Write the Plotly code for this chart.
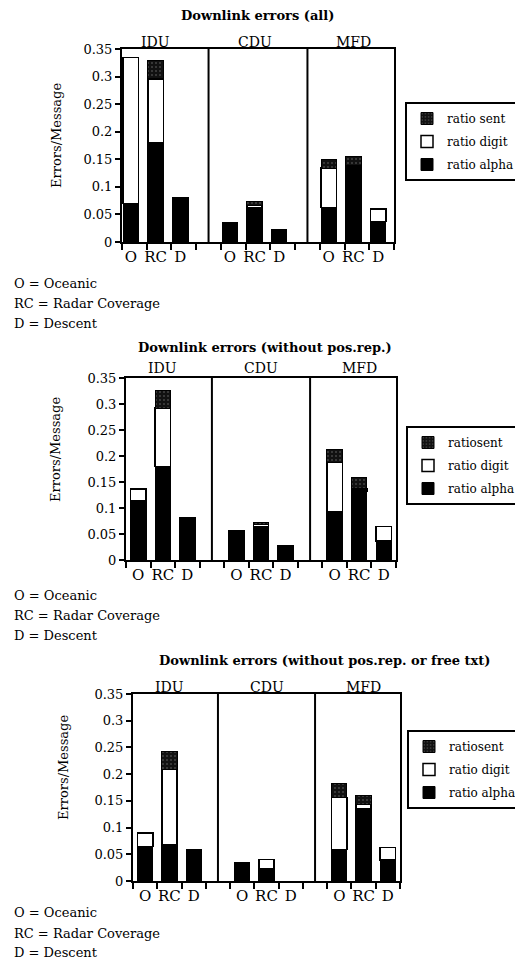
import plotly.graph_objects as go

W, H = 523, 965
PAGE_MARGIN = 8  # default body margin of the html page
FW, FH = W - PAGE_MARGIN, H - PAGE_MARGIN

groups = ["IDU", "CDU", "MFD"]
phases = ["O", "RC", "D"]
series_names = ["ratio alpha", "ratio digit", "ratio sent"]

# Panel 1: Downlink errors (all)
p1_alpha = [0.070, 0.180, 0.081, 0.035, 0.063, 0.023, 0.063, 0.134, 0.037]
p1_digit = [0.265, 0.116, 0.0, 0.0, 0.004, 0.0, 0.071, 0.004, 0.023]
p1_sent = [0.0, 0.033, 0.0, 0.0, 0.006, 0.0, 0.016, 0.017, 0.0]

# Panel 2: Downlink errors (without pos.rep.)
p2_alpha = [0.114, 0.180, 0.082, 0.056, 0.064, 0.027, 0.093, 0.133, 0.037]
p2_digit = [0.023, 0.112, 0.0, 0.0, 0.004, 0.0, 0.095, 0.004, 0.027]
p2_sent = [0.0, 0.034, 0.0, 0.0, 0.005, 0.0, 0.024, 0.022, 0.0]

# Panel 3: Downlink errors (without pos.rep. or free txt)
p3_alpha = [0.065, 0.068, 0.059, 0.034, 0.023, 0.0, 0.059, 0.135, 0.039]
p3_digit = [0.025, 0.141, 0.0, 0.0, 0.017, 0.0, 0.097, 0.009, 0.024]
p3_sent = [0.0, 0.033, 0.0, 0.0, 0.0, 0.0, 0.026, 0.016, 0.0]

titles = ["Downlink errors (all)",
          "Downlink errors (without pos.rep.)",
          "Downlink errors (without pos.rep. or free txt)"]
sent_labels = ["ratio sent", "ratiosent", "ratiosent"]
y_ticks = [0, 0.05, 0.1, 0.15, 0.2, 0.25, 0.3, 0.35]
footnotes = ["O = Oceanic", "RC = Radar Coverage", "D = Descent"]

FONT = "DejaVu Serif"

# layout geometry in page pixels (left, right, top, bottom)
panels = [
    dict(box=(122, 394, 49, 242), title_xy=(257, 15), ytitle_xy=(57, 136),
         legend_xy=(521, 102), foot_y=(283, 303, 323), shift=-0.14, grp_shift=-3,
         data=(p1_alpha, p1_digit, p1_sent)),
    dict(box=(126, 396, 378, 560), title_xy=(265, 348), ytitle_xy=(55, 450),
         legend_xy=(522, 426), foot_y=(595, 615, 635), shift=0.0, grp_shift=0,
         data=(p2_alpha, p2_digit, p2_sent)),
    dict(box=(133, 400, 694, 881), title_xy=(325, 660), ytitle_xy=(63, 768),
         legend_xy=(523, 730), foot_y=(912, 933, 952), shift=0.0, grp_shift=-3,
         data=(p3_alpha, p3_digit, p3_sent)),
]


def px_x(v):
    return (v - PAGE_MARGIN) / FW


def px_y(v):
    return 1 - (v - PAGE_MARGIN) / FH


x_pos = [g * 4 + p for g in range(len(groups)) for p in range(len(phases))]
x_lab = [phases[i % 3] for i in range(len(x_pos))]

fig = go.Figure()
layout = dict(
    template="none",
    width=FW, height=FH, margin=dict(l=0, r=0, t=0, b=0, pad=0), autosize=False,
    paper_bgcolor="white", plot_bgcolor="white", barmode="stack",
    font=dict(family=FONT, size=13, color="black"),
    annotations=[], shapes=[],
)


def nz(vals):
    return [v if v else None for v in vals]


for i, pnl in enumerate(panels):
    n = "" if i == 0 else str(i + 1)
    xa, ya = "x" + n, "y" + n
    lg = "legend" + n
    l, r, t, b = pnl["box"]
    alpha, digit, sent = pnl["data"]
    sh = pnl["shift"]
    if sh:
        bar_kw = dict(width=0.62, offset=-0.45)
    else:
        bar_kw = dict(width=0.63)

    fig.add_trace(go.Bar(x=x_pos, y=nz(alpha), name=series_names[0], xaxis=xa, yaxis=ya,
                         legend=lg, legendgroup="a" + n, legendrank=3,
                         marker=dict(color="black", line=dict(color="black", width=1)),
                         **bar_kw))
    fig.add_trace(go.Bar(x=x_pos, y=nz(digit), name=series_names[1], xaxis=xa, yaxis=ya,
                         legend=lg, legendgroup="d" + n, legendrank=2,
                         marker=dict(color="white", line=dict(color="black", width=1.5)),
                         **bar_kw))
    fig.add_trace(go.Bar(x=x_pos, y=nz(sent), name=sent_labels[i], xaxis=xa, yaxis=ya,
                         legend=lg, legendgroup="s" + n, legendrank=1,
                         marker=dict(color="#111111", line=dict(color="black", width=1),
                                     pattern=dict(shape=".", fgcolor="#444444", bgcolor="#111111",
                                                  size=4, solidity=0.2, fillmode="replace")),
                         **bar_kw))

    layout["xaxis" + n] = dict(
        domain=[px_x(l), px_x(r)], anchor=ya, range=[-0.5, 10.5], automargin=False,
        tickmode="array", tickvals=[v + sh for v in x_pos], ticktext=x_lab,
        ticks="", showgrid=False, zeroline=False,
        showline=True, mirror=True, linecolor="black", linewidth=2,
        tickfont=dict(family=FONT, size=15, color="black"),
        minor=dict(tickmode="array", tickvals=[k - 0.5 for k in range(12)],
                   ticks="outside", ticklen=6, tickwidth=1.5, tickcolor="black", showgrid=False),
        fixedrange=True,
    )
    layout["yaxis" + n] = dict(
        domain=[px_y(b), px_y(t)], anchor=xa, range=[0, 0.35], automargin=False,
        tickmode="array", tickvals=y_ticks,
        ticks="outside", ticklen=5, tickwidth=1.5, tickcolor="black",
        showgrid=False, zeroline=False,
        showline=True, mirror=True, linecolor="black", linewidth=2,
        tickfont=dict(family=FONT, size=13, color="black"),
        fixedrange=True,
    )
    layout[lg] = dict(
        x=px_x(pnl["legend_xy"][0]), y=px_y(pnl["legend_xy"][1]),
        xanchor="right", yanchor="top", traceorder="grouped",
        tracegroupgap=4,
        bordercolor="black", borderwidth=2, bgcolor="white",
        font=dict(family=FONT, size=12, color="black"),
        itemwidth=30,
    )

    # panel dividers between device groups
    for d in (3, 7):
        layout["shapes"].append(dict(type="line", xref=xa, yref=ya + " domain",
                                     x0=d, x1=d, y0=0, y1=1,
                                     line=dict(color="black", width=2)))
    # device group labels
    for gi, g in enumerate(groups):
        layout["annotations"].append(dict(
            text=g, xref=xa, yref=ya + " domain", x=gi * 4 + 1 + sh, y=1,
            xanchor="center", yanchor="bottom", yshift=pnl["grp_shift"], showarrow=False,
            font=dict(family=FONT, size=14, color="black")))
    # title
    layout["annotations"].append(dict(
        text="<b>" + titles[i] + "</b>", xref="paper", yref="paper",
        x=px_x(pnl["title_xy"][0]), y=px_y(pnl["title_xy"][1]),
        xanchor="center", yanchor="middle", showarrow=False,
        font=dict(family=FONT, size=13, color="black")))
    # y title
    layout["annotations"].append(dict(
        text="Errors/Message", xref="paper", yref="paper",
        x=px_x(pnl["ytitle_xy"][0]), y=px_y(pnl["ytitle_xy"][1]),
        xanchor="center", yanchor="middle", textangle=-90, showarrow=False,
        font=dict(family=FONT, size=13, color="black")))
    # footnotes
    for fy, ft in zip(pnl["foot_y"], footnotes):
        layout["annotations"].append(dict(
            text=ft, xref="paper", yref="paper", x=px_x(12), y=px_y(fy),
            xanchor="left", yanchor="middle", showarrow=False,
            font=dict(family=FONT, size=13, color="black")))

fig.update_layout(**layout)
fig.write_html("out.html")
